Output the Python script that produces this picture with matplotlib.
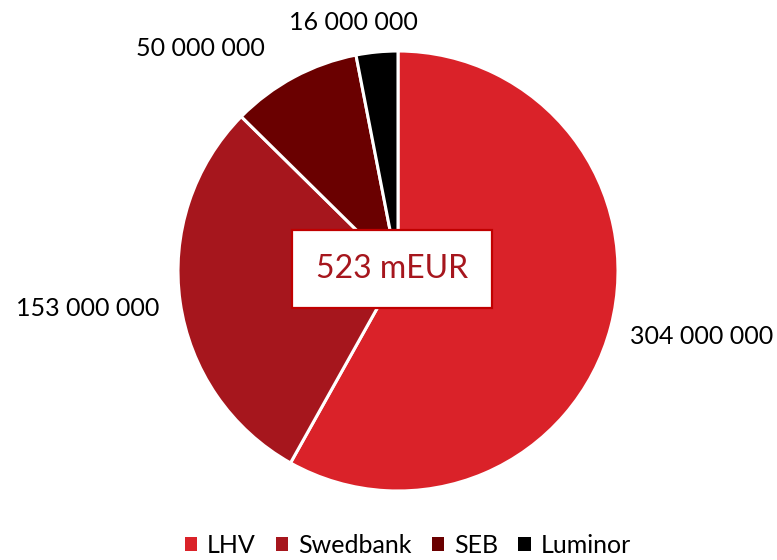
import numpy as np
import matplotlib
matplotlib.use('agg')
import matplotlib.pyplot as plt

banks = ['LHV', 'Swedbank', 'SEB', 'Luminor']
amounts = [304000000, 153000000, 50000000, 16000000]
colours = ['#DA2229', '#A6161D', '#6A0000', '#000000']
label_dist = [1.41, 1.42, 1.36, 1.16]
label_shift = [3.0, -1.8, 13.0, 4.5]   # degrees, nudges the labels like the original
total_text = '523 mEUR'

plt.rcParams['font.family'] = ['Lato', 'DejaVu Sans']

fig = plt.figure(figsize=(7.77, 5.60), dpi=100)
ax = fig.add_axes([0, 0, 1, 1])

cx, cy, r = 398, 289, 220
wedges, _ = ax.pie(amounts, colors=colours, startangle=90, counterclock=False,
                   center=(cx, cy), radius=r, frame=True,
                   wedgeprops=dict(edgecolor='white', linewidth=2.2))
ax.set_xlim(0, 777)
ax.set_ylim(0, 560)
ax.axis('off')

for w, v, d, s in zip(wedges, amounts, label_dist, label_shift):
    ang = np.deg2rad((w.theta1 + w.theta2) / 2 + s)
    lbl = '{:,}'.format(v).replace(',', ' ')
    ax.text(cx + d * r * np.cos(ang), cy - 3 + d * r * np.sin(ang), lbl,
            ha='center', va='center', fontsize=18, color='black')

ax.text(cx - 6, cy + 2, total_text, ha='center', va='center', fontsize=23,
        color='#A6161D',
        bbox=dict(boxstyle='square,pad=0.75', fc='white', ec='#C00000', lw=1.6))

leg = ax.legend(wedges, banks, loc='lower center', bbox_to_anchor=(0.525, -0.035),
                ncol=4, frameon=False, fontsize=18, handlelength=0.5,
                handleheight=0.5, handletextpad=0.4, columnspacing=0.8)
for h in leg.legend_handles:
    h.set_edgecolor('none')

plt.savefig('out.png', dpi=100)
